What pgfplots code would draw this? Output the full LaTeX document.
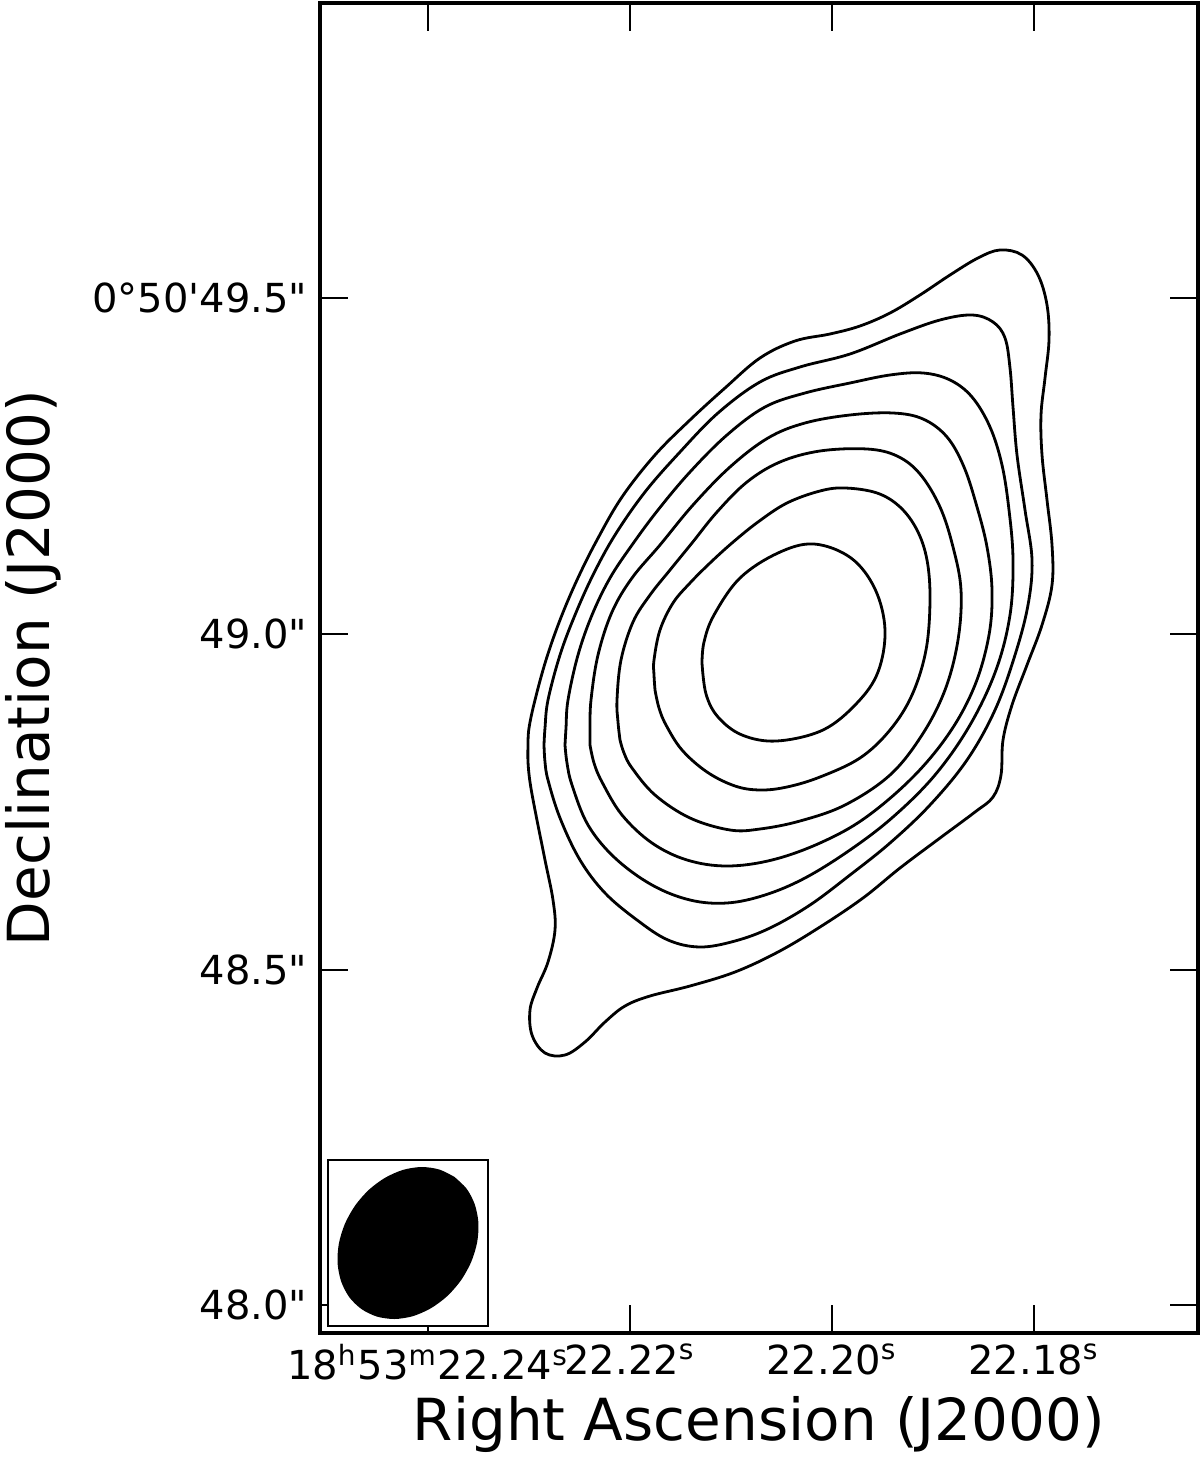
\documentclass[border=0pt]{standalone}
\usepackage{fontspec}
\setmainfont{DejaVu Sans}
\usepackage{pgfplots}
\pgfplotsset{compat=1.18}

% positions are image pixels (x to the right, y downwards)
\newcommand{\tickfont}{\fontsize{10}{12}\selectfont}
\newcommand{\labfont}{\fontsize{14.5}{17}\selectfont}

\begin{document}
\begin{tikzpicture}
\begin{axis}[
  scale only axis, width=219.5pt, height=332.5pt,
  xmin=320, xmax=1198, ymin=3, ymax=1333, y dir=reverse,
  axis line style={line width=0.8pt},
  tick align=inside, tick pos=both, xticklabel pos=lower, yticklabel pos=left,
  major tick length=7pt, every tick/.append style={black, line width=0.6pt},
  xtick={428,630,832,1034},
  xticklabels={{18\textsuperscript{h}53\textsuperscript{m}22.24\textsuperscript{s}},
    {22.22\textsuperscript{s}}, {22.20\textsuperscript{s}}, {22.18\textsuperscript{s}}},
  ytick={298,634,970,1305},
  yticklabels={{0°50\textquotesingle49.5\textquotedbl}, {49.0\textquotedbl},
    {48.5\textquotedbl}, {48.0\textquotedbl}},
  xticklabel style={font=\tickfont, inner sep=0pt, yshift=-2.5pt},
  yticklabel style={font=\tickfont, inner sep=0pt, xshift=-3pt},
  xlabel={Right Ascension (J2000)}, ylabel={Declination (J2000)},
  xlabel style={font=\labfont, at={(axis description cs:0.5,-0.0474)}, anchor=north, inner sep=0pt},
  ylabel style={font=\labfont, at={(axis description cs:-0.3588,0.5)}, anchor=north, inner sep=0pt},
  clip=false,
]
\pgfplotsset{cont/.style={black, line width=0.7pt, smooth, tension=0.6, mark=none}}
% contour 1 (outermost)
\addplot[cont] coordinates {(528,745) (529,728) (535,700) (546,660) (560,620) (577,580) (597,540)
 (622,497) (655,455) (690,420) (725,388) (760,358) (795,341) (830,334) (860,326) (890,313) (920,295)
 (950,275) (978,258) (1000,250) (1022,255) (1038,275) (1047,305) (1049,340) (1045,378) (1041,415)
 (1042,455) (1047,500) (1052,545) (1052,585) (1042,625) (1027,665) (1012,705) (1003,740) (1001,775)
 (993,797) (975,812) (940,838) (900,868) (863,898) (820,927) (778,952) (735,972) (690,986) (650,996)
 (625,1006) (605,1022) (585,1042) (565,1055) (545,1053) (532,1035) (530,1010) (537,988) (548,962)
 (555,930) (553,900) (545,860) (535,810) (530,782) (528,762) (528,745)};
% contour 2
\addplot[cont] coordinates {(544,745) (545,728) (548,700) (560,655) (575,615) (593,575) (615,535)
 (645,492) (680,452) (718,413) (760,382) (800,367) (850,354) (900,334) (940,320) (972,315) (993,322)
 (1005,338) (1010,368) (1013,407) (1017,455) (1025,510) (1032,560) (1028,605) (1015,655) (995,710)
 (967,760) (930,805) (890,843) (850,875) (810,905) (770,928) (735,941) (700,947) (668,940) (637,920)
 (605,893) (580,860) (560,818) (548,780) (545,762) (544,745)};
% contour 3
\addplot[cont] coordinates {(565,745) (566,728) (568,700) (578,655) (592,615) (610,578) (632,545)
 (658,510) (690,472) (727,435) (765,407) (805,393) (850,383) (890,375) (923,373) (950,380) (972,397)
 (990,427) (1002,465) (1009,510) (1013,560) (1010,615) (996,670) (970,725) (935,775) (893,817)
 (850,850) (805,878) (765,895) (727,903) (690,900) (652,885) (615,858) (588,825) (572,785) (567,763)
 (565,745)};
% contour 4
\addplot[cont] coordinates {(590,745) (590,728) (591,700) (598,655) (612,612) (632,578) (660,545)
 (693,505) (730,467) (768,438) (805,423) (850,415) (893,413) (923,419) (947,437) (964,467) (977,507)
 (987,547) (992,590) (989,635) (975,685) (950,732) (913,777) (865,818) (820,843) (772,860) (727,866)
 (687,860) (652,843) (622,815) (602,782) (594,763) (590,745)};
% contour 5
\addplot[cont] coordinates {(620,740) (618,722) (617,700) (621,660) (633,622) (650,595) (670,570)
 (692,543) (717,512) (747,482) (780,462) (820,451) (867,449) (897,456) (920,474) (940,507) (953,547)
 (961,590) (958,640) (945,690) (922,735) (890,775) (845,805) (800,821) (760,829) (730,830) (690,818)
 (655,795) (632,768) (624,753) (620,740)};
% contour 6
\addplot[cont] coordinates {(655,690) (654,675) (654,660) (660,630) (673,603) (690,583) (710,563)
 (732,543) (758,522) (787,503) (820,491) (845,488) (877,493) (900,507) (917,530) (927,560) (930,600)
 (926,650) (912,695) (890,730) (860,758) (820,777) (787,787) (760,790) (735,786) (707,772) (682,750)
 (666,725) (659,708) (655,690)};
% contour 7 (innermost)
\addplot[cont] coordinates {(702,663) (704,642) (714,615) (740,578) (778,553) (814,544) (851,558)
 (875,589) (885,630) (878,672) (857,703) (823,730) (777,741) (742,735) (718,717) (706,694) (702,663)};
% beam
\addplot[black, line width=0.35pt, fill=white, mark=none] coordinates {(328,1160) (488,1160) (488,1326) (328,1326)} -- cycle;
\addplot[black, fill=black, smooth, mark=none] coordinates {(453.9,1177.5) (466.0,1189.2) (474.0,1204.6)
 (477.6,1222.6) (476.4,1242.0) (470.5,1261.5) (460.4,1279.7) (446.7,1295.5) (430.4,1307.6)
 (412.6,1315.4) (394.4,1318.2) (377.2,1315.8) (362.1,1308.5) (350.0,1296.8) (342.0,1281.4)
 (338.4,1263.4) (339.6,1244.0) (345.5,1224.5) (355.6,1206.3) (369.3,1190.5) (385.6,1178.4)
 (403.4,1170.6) (421.6,1167.8) (438.8,1170.2) (453.9,1177.5)} -- cycle;
\end{axis}
\pgfresetboundingbox
\path ([shift={(-80pt,-35pt)}]current axis.south west) rectangle ([shift={(0.5pt,0.75pt)}]current axis.north east);
\end{tikzpicture}
\end{document}
